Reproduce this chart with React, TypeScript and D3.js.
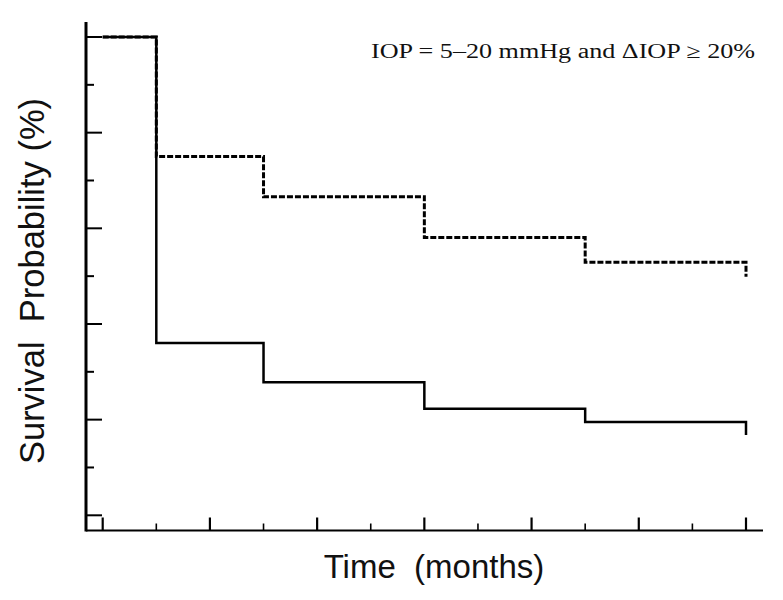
import React from "react";
import * as d3 from "d3";

const times = [0, 1, 3, 6, 9, 12];
const groupA = [100, 75, 66.6, 58.1, 52.9, 49.9]; // dashed
const groupB = [100, 36.0, 27.8, 22.3, 19.5, 16.8]; // solid
const xTicks = [0, 1, 2, 3, 4, 5, 6, 7, 8, 9, 10, 11, 12];
const yTicks = [0, 10, 20, 30, 40, 50, 60, 70, 80, 90, 100];
const annotation = "IOP = 5\u201320 mmHg and \u0394IOP \u2265 20%";
const xTitle = "Time  (months)";
const yTitle = "Survival  Probability (%)";

export default function App() {
  const W = 783, H = 600;
  const x = d3.scaleLinear().domain([0, 12]).range([102.7, 746]);
  const y = d3.scaleLinear().domain([0, 100]).range([515.3, 37]);
  const line = d3
    .line<[number, number]>()
    .x((d) => x(d[0]))
    .y((d) => y(d[1]))
    .curve(d3.curveStepAfter);
  const ptsA = times.map((t, i) => [t, groupA[i]] as [number, number]);
  const ptsB = times.map((t, i) => [t, groupB[i]] as [number, number]);
  const axisX = 86;
  const axisY = 530.5;
  return (
    <div style={{ position: "absolute", left: 0, top: 0 }}>
      <svg width={W} height={H} style={{ display: "block", background: "#fff" }}>
        {/* series */}
        <path d={line(ptsA) || ""} fill="none" stroke="#000" strokeWidth={3} strokeDasharray="6,2" />
        <path d={line(ptsB) || ""} fill="none" stroke="#000" strokeWidth={2.5} />
        {/* y axis */}
        <line x1={axisX} x2={axisX} y1={22} y2={axisY + 1} stroke="#000" strokeWidth={3} />
        {yTicks.map((t) => (
          <line
            key={"y" + t}
            x1={axisX}
            x2={axisX + (t % 20 === 0 ? 16 : 8)}
            y1={y(t)}
            y2={y(t)}
            stroke="#000"
            strokeWidth={2}
          />
        ))}
        {/* x axis */}
        <line x1={axisX} x2={763} y1={axisY} y2={axisY} stroke="#000" strokeWidth={2} />
        {xTicks.map((t) => (
          <line
            key={"x" + t}
            x1={x(t)}
            x2={x(t)}
            y1={axisY}
            y2={axisY - (t % 2 === 0 ? 13 : 7)}
            stroke="#000"
            strokeWidth={t % 2 === 0 ? 2.2 : 1.6}
          />
        ))}
        {/* titles */}
        <text
          x={434}
          y={578}
          textAnchor="middle"
          fontFamily="Liberation Sans, Arial, sans-serif"
          fontSize={33}
          fill="#111"
          style={{ whiteSpace: "pre" }}
        >
          {xTitle}
        </text>
        <text
          transform={`translate(44,281) rotate(-90)`}
          textAnchor="middle"
          fontFamily="Liberation Sans, Arial, sans-serif"
          fontSize={34.5}
          fill="#111"
          style={{ whiteSpace: "pre" }}
        >
          {yTitle}
        </text>
        <text
          x={371}
          y={58}
          fontFamily="Liberation Serif, Times New Roman, serif"
          fontSize={20.5}
          textLength={384}
          lengthAdjust="spacingAndGlyphs"
          fill="#111"
        >
          {annotation}
        </text>
      </svg>
    </div>
  );
}
